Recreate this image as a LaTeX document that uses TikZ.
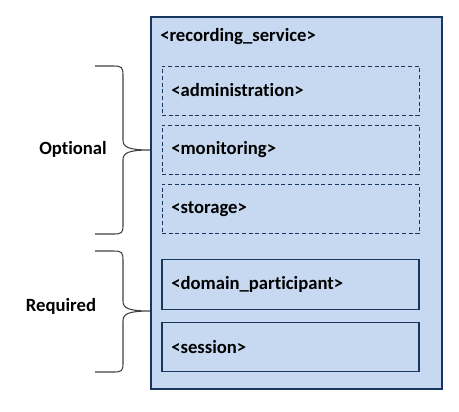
\documentclass[tikz,border=0pt]{standalone}
\usepackage{fontspec}
\setmainfont[Ligatures={NoCommon}]{Carlito}
\definecolor{boxfill}{HTML}{C6D9F0}
\definecolor{boxline}{HTML}{17375E}
\definecolor{braceline}{HTML}{404040}
\tikzset{
  outerbox/.style={draw=boxline, fill=boxfill, line width=1pt, inner sep=0pt,
    minimum width=218.25pt, minimum height=279pt},
  optbox/.style={draw=boxline, dash pattern=on 3pt off 2pt, line width=0.5pt, inner sep=0pt,
    minimum width=192.75pt, minimum height=37pt},
  reqbox/.style={draw=boxline, line width=0.8pt, inner sep=0pt,
    minimum width=192.75pt, minimum height=37pt},
  tag/.style={anchor=west, inner sep=0pt, font=\fontsize{14}{16}\selectfont\bfseries},
  bracepath/.style={draw=braceline, line width=0.8pt}
}
\begin{document}
\begin{tikzpicture}[x=0.75pt, y=-0.75pt]
  \useasboundingbox (0,0) rectangle (459,411);
  % outer container
  \node[outerbox] (rs) at (296.5,203) {};
  \node[tag] (rstext) at (160,37) {<recording\_service>};
  % optional parts
  \node[optbox] (adm) at (290.5,90.5) {};
  \node[optbox] (mon) at (290.5,149.5) {};
  \node[optbox] (sto) at (290.5,209) {};
  \node[tag] at (171,90) {<administration>};
  \node[tag] at (171,150) {<monitoring>};
  \node[tag] at (171,209) {<storage>};
  % required parts
  \node[reqbox] (dp) at (290.5,284.5) {};
  \node[reqbox] (ses) at (290.5,347) {};
  \node[tag] at (171,284) {<domain\_participant>};
  \node[tag] at (171,347) {<session>};
  % braces
  \draw[bracepath] (95,66) -- (113,66) .. controls (122,66) and (123,67) .. (123,76)
    -- (123,140) .. controls (123,147) and (128,150) .. (150,150)
    .. controls (128,150) and (123,153) .. (123,160)
    -- (123,225) .. controls (123,233) and (122,234) .. (113,234) -- (95,234);
  \draw[bracepath] (95,251) -- (113,251) .. controls (122,251) and (123,252) .. (123,261)
    -- (123,301) .. controls (123,308) and (128,311) .. (150,311)
    .. controls (128,311) and (123,314) .. (123,321)
    -- (123,363) .. controls (123,371) and (122,372) .. (113,372) -- (95,372);
  \node[font=\fontsize{14}{16}\selectfont\bfseries] (opt) at (73,149) {Optional};
  \node[font=\fontsize{14}{16}\selectfont\bfseries] (req) at (61,306) {Required};
\end{tikzpicture}
\end{document}
